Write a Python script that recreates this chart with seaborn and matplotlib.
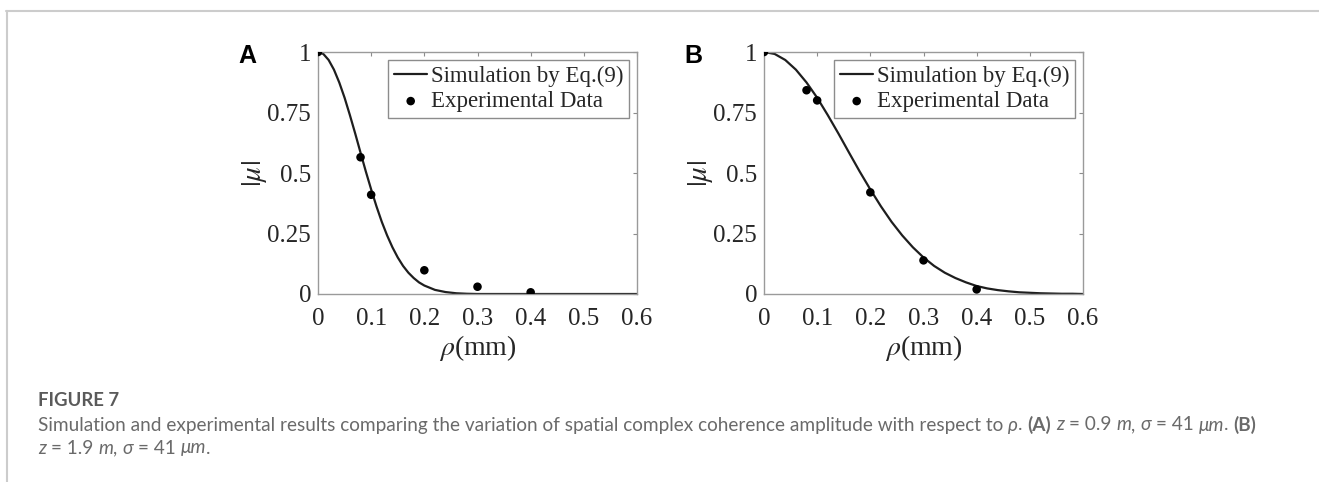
import numpy as np
import pandas as pd
import matplotlib
matplotlib.use("Agg")
import matplotlib.pyplot as plt
from matplotlib.lines import Line2D
import seaborn as sns

# Simulated coherence curves (Eq. 9) and measured points
rho_sim_a = [0.00, 0.01, 0.02, 0.03, 0.04, 0.05, 0.06, 0.07, 0.08, 0.09,
             0.10, 0.11, 0.12, 0.13, 0.14, 0.15, 0.16, 0.17, 0.18, 0.19,
             0.20, 0.22, 0.24, 0.26, 0.28, 0.30, 0.40, 0.50, 0.60]
mu_sim_a = [1.000, 0.992, 0.967, 0.927, 0.874, 0.811, 0.739, 0.663, 0.584, 0.506,
            0.432, 0.362, 0.298, 0.242, 0.193, 0.151, 0.116, 0.088, 0.066, 0.048,
            0.035, 0.017, 0.008, 0.003, 0.001, 0.000, 0.000, 0.000, 0.000]

rho_sim_b = [0.00, 0.02, 0.04, 0.06, 0.08, 0.10, 0.12, 0.14, 0.16, 0.18,
             0.20, 0.22, 0.24, 0.26, 0.28, 0.30, 0.32, 0.34, 0.36, 0.38,
             0.40, 0.42, 0.44, 0.46, 0.48, 0.50, 0.52, 0.54, 0.56, 0.58, 0.60]
mu_sim_b = [1.000, 0.992, 0.967, 0.927, 0.874, 0.811, 0.739, 0.663, 0.584, 0.506,
            0.432, 0.362, 0.298, 0.242, 0.193, 0.151, 0.116, 0.088, 0.066, 0.048,
            0.033, 0.023, 0.016, 0.011, 0.007, 0.005, 0.003, 0.002, 0.001, 0.001, 0.000]

rho_exp = [0.0, 0.08, 0.1, 0.2, 0.3, 0.4]
mu_exp_a = [1.0, 0.565, 0.41, 0.098, 0.030, 0.007]
mu_exp_b = [1.0, 0.842, 0.80, 0.42, 0.139, 0.019]

x_ticks = [0, 0.1, 0.2, 0.3, 0.4, 0.5, 0.6]
x_tick_labels = ["0", "0.1", "0.2", "0.3", "0.4", "0.5", "0.6"]
y_ticks = [0, 0.25, 0.5, 0.75, 1]
y_tick_labels = ["0", "0.25", "0.5", "0.75", "1"]

panel_letters = ["A", "B"]
sim_label = "Simulation by Eq.(9)"
exp_label = "Experimental Data"

sns.set_theme(style="white")
plt.rcParams["font.family"] = ["Liberation Serif", "DejaVu Serif"]
plt.rcParams["mathtext.fontset"] = "stix"

W, H = 1319, 482
fig = plt.figure(figsize=(W / 100, H / 100), dpi=100)
fig.patch.set_facecolor("white")

ink = "#262626"
tick_size = 18
legend_size = 16.5

panels = [
    (318, rho_sim_a, mu_sim_a, mu_exp_a, 247),
    (764, rho_sim_b, mu_sim_b, mu_exp_b, 693),
]

for (left_px, rs, ms, me, letter_x), letter in zip(panels, panel_letters):
    ax = fig.add_axes([left_px / W, 1 - 294 / H, 319 / W, 242 / H])
    sim_df = pd.DataFrame({"rho": rs, "mu": ms})
    exp_df = pd.DataFrame({"rho": rho_exp, "mu": me})
    sns.lineplot(data=sim_df, x="rho", y="mu", ax=ax, color="#1e1e1e",
                 linewidth=1.6, label=sim_label)
    sns.scatterplot(data=exp_df, x="rho", y="mu", ax=ax, color="black",
                    s=38, edgecolor="none", label=exp_label, zorder=3)
    ax.set_xlim(0, 0.6)
    ax.set_ylim(0, 1)
    ax.set_xticks(x_ticks)
    ax.set_xticklabels(x_tick_labels, fontsize=tick_size, color=ink)
    ax.set_yticks(y_ticks)
    ax.set_yticklabels(y_tick_labels, fontsize=tick_size, color=ink)
    ax.tick_params(direction="in", length=3, width=0.8, color="#8c8c8c",
                   top=True, right=True)
    ax.tick_params(axis="x", pad=10)
    ax.tick_params(axis="y", pad=5)
    for sp in ax.spines.values():
        sp.set_color("#9a9a9a")
        sp.set_linewidth(1.0)
    ax.set_xlabel(r"$\rho$(mm)", fontsize=20, color=ink, labelpad=2)
    ax.set_ylabel(r"$|\mu|$", fontsize=21, color=ink, labelpad=-1)
    leg = ax.legend(loc="upper right", fontsize=legend_size, frameon=True,
                    fancybox=False, framealpha=1, edgecolor="#8c8c8c",
                    handlelength=1.45, handletextpad=0.15, borderpad=0.25,
                    labelspacing=0.18, borderaxespad=0.35)
    leg.get_frame().set_linewidth(1.0)
    for t in leg.get_texts():
        t.set_color(ink)
    fig.text(letter_x / W, 1 - 56 / H, letter, fontsize=18, fontweight="bold",
             family=["Liberation Sans", "DejaVu Sans"], color="black",
             ha="center", va="center")

# Page frame lines
frame_col = "#cccccc"
fig.add_artist(Line2D([6 / W, 1], [1 - 11 / H, 1 - 11 / H], color=frame_col, linewidth=1.5))
fig.add_artist(Line2D([6.5 / W, 6.5 / W], [0, 1 - 11 / H], color=frame_col, linewidth=1.5))

# Caption with mixed styles
cap_col = "#6a6a6a"
cap_size = 13.7
cap_family = ["Lato", "DejaVu Sans"]

fig.text(38 / W, 1 - 401 / H, "FIGURE 7", fontsize=13.3, fontweight="bold",
         family=cap_family, color="#5a5a5a", va="center", ha="left")

renderer = fig.canvas.get_renderer()


def text_width(s, **kw):
    t = fig.text(0, 0, s, fontsize=cap_size, family=cap_family, **kw)
    w = t.get_window_extent(renderer).width
    t.remove()
    return w


space_w = text_width("a a") - text_width("aa")


def draw_runs(runs, x0, y):
    x = x0
    for s, style in runs:
        kw = {}
        if style == "i":
            kw["style"] = "italic"
        elif style == "b":
            kw["fontweight"] = "bold"
        core = s.strip(" ")
        lead = len(s) - len(s.lstrip(" "))
        trail = len(s) - len(s.rstrip(" "))
        x += lead * space_w
        if core:
            t = fig.text(x / W, 1 - y / H, core, fontsize=cap_size, family=cap_family,
                         color=cap_col, va="center", ha="left", **kw)
            x += t.get_window_extent(renderer).width
        x += trail * space_w


line1 = [
    ("Simulation and experimental results comparing the variation of spatial "
     "complex coherence amplitude with respect to ", "n"),
    ("\u03c1", "i"), (". ", "n"), ("(A)", "b"), (" z", "i"),
    (" = 0.9 ", "n"), ("m", "i"), (", ", "n"), ("\u03c3", "i"), (" = 41 ", "n"),
    ("\u03bcm", "i"), (". ", "n"), ("(B)", "b"),
]
line2 = [
    ("z", "i"), (" = 1.9 ", "n"), ("m", "i"), (", ", "n"), ("\u03c3", "i"),
    (" = 41 ", "n"), ("\u03bcm", "i"), (".", "n"),
]
draw_runs(line1, 38, 425)
draw_runs(line2, 38, 448)

fig.savefig("out.png", dpi=100, facecolor="white")
